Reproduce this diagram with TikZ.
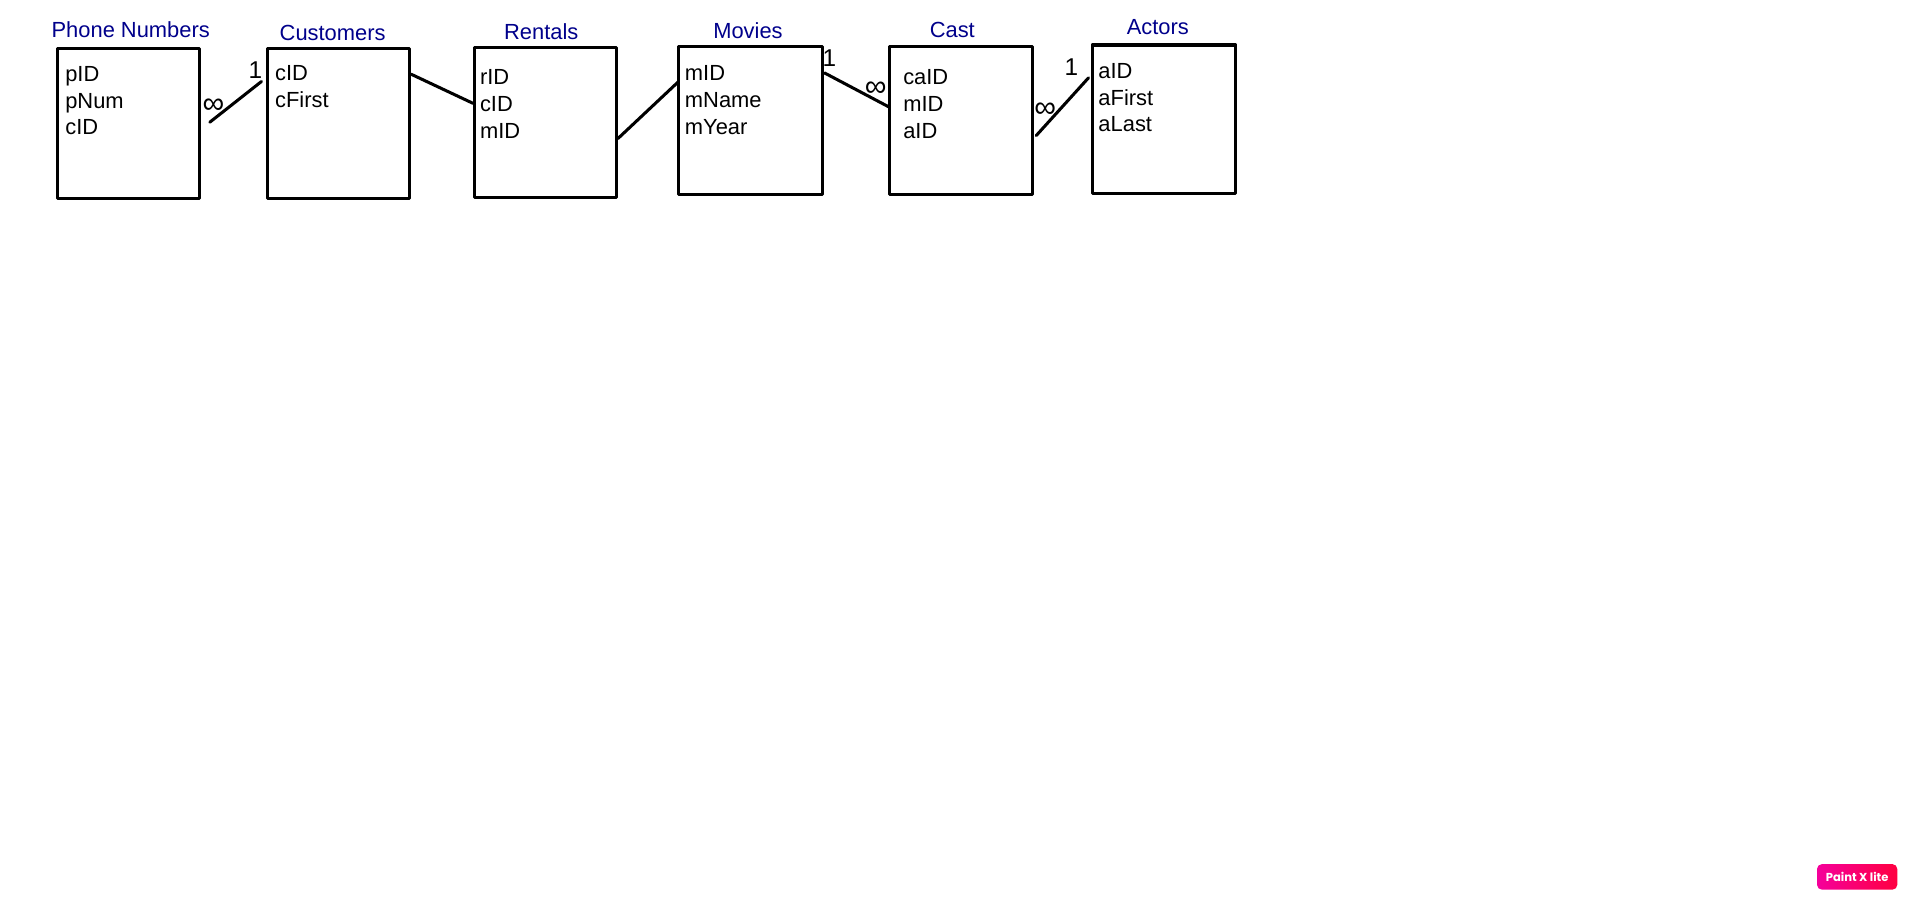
\documentclass[tikz,border=0pt]{standalone}
\usepackage{fontspec}
\setmainfont{Liberation Sans}
\newfontfamily\badgefont{Poppins}
\definecolor{titlenavy}{HTML}{00008B}
\definecolor{badgeL}{HTML}{F5009B}
\definecolor{badgeR}{HTML}{FF0040}
\tikzset{
  tablebox/.style={draw=black,line width=2.5pt,line join=round,fill=white,anchor=north west,inner sep=0pt,outer sep=0pt,minimum width=#1},
  tablebox/.default=117pt,
  tabletitle/.style={text=titlenavy,font=\fontsize{18}{20}\selectfont,inner sep=0pt,anchor=base},
  fieldtext/.style={text=black,font=\fontsize{18}{20}\selectfont,inner sep=0pt,anchor=base west},
  marktext/.style={text=black,font=\fontsize{20}{22}\selectfont,inner sep=0pt,anchor=center},
  infmark/.style={text=black,font=\fontsize{25}{25}\selectfont,inner sep=0pt,anchor=center},
  relation/.style={draw=black,line width=2.5pt,line cap=round},
}
\begin{document}
\begin{tikzpicture}[x=1pt,y=-1pt]
\useasboundingbox (0,0) rectangle (1568,737.5);
% tables
\node[tablebox=117pt,minimum height=123pt] (phone) at (47,40) {};
\node[tablebox=117pt,minimum height=123pt] (cust) at (220,40) {};
\node[tablebox=117pt,minimum height=123pt] (rent) at (390,39) {};
\node[tablebox=118pt,minimum height=122pt] (movie) at (558,38) {};
\node[tablebox=118pt,minimum height=122pt] (cast) at (731,38) {};
\node[tablebox=118pt,minimum height=122pt] (actor) at (898,37) {};
% titles
\node[tabletitle] (tphone) at (107.5,30.5) {Phone Numbers};
\node[tabletitle] (tcust) at (273.5,33.5) {Customers};
\node[tabletitle] (trent) at (445,32.5) {Rentals};
\node[tabletitle] (tmovie) at (615,31.5) {Movies};
\node[tabletitle] (tcast) at (783,30.5) {Cast};
\node[tabletitle] (tactor) at (952,28.5) {Actors};
% fields
\node[fieldtext] (f1a) at (53.5,67) {pID};
\node[fieldtext] (f1b) at (53.5,89) {pNum};
\node[fieldtext] (f1c) at (53.5,111) {cID};
\node[fieldtext] (f2a) at (226,66.5) {cID};
\node[fieldtext] (f2b) at (226,88.5) {cFirst};
\node[fieldtext] (f3a) at (394.5,69.7) {rID};
\node[fieldtext] (f3b) at (394.5,91.7) {cID};
\node[fieldtext] (f3c) at (394.5,113.7) {mID};
\node[fieldtext] (f4a) at (563,66.5) {mID};
\node[fieldtext] (f4b) at (563,88.5) {mName};
\node[fieldtext] (f4c) at (563,110.5) {mYear};
\node[fieldtext] (f5a) at (742.5,69.7) {caID};
\node[fieldtext] (f5b) at (742.5,91.7) {mID};
\node[fieldtext] (f5c) at (742.5,113.7) {aID};
\node[fieldtext] (f6a) at (903,64.5) {aID};
\node[fieldtext] (f6b) at (903,86.5) {aFirst};
\node[fieldtext] (f6c) at (903,108.5) {aLast};
% connector ends
\coordinate (c1a) at (172.5,100.5);
\coordinate (c1b) at (215,67);
\coordinate (c2a) at (338,61);
\coordinate (c2b) at (389,85);
\coordinate (c3a) at (508,114);
\coordinate (c3b) at (558,67);
\coordinate (c4a) at (678,60);
\coordinate (c4b) at (731,88);
\coordinate (c5a) at (852,111.5);
\coordinate (c5b) at (895,64);
\draw[relation] (c1a) -- (c1b);
\draw[relation] (c2a) -- (c2b);
\draw[relation] (c3a) -- (c3b);
\draw[relation] (c4a) -- (c4b);
\draw[relation] (c5a) -- (c5b);
% cardinalities
\node[marktext] (m1) at (210,58) {1};
\node[infmark] (m2) at (175.5,87) {∞};
\node[marktext] (m3) at (682,48) {1};
\node[infmark] (m4) at (720,73) {∞};
\node[infmark] (m5) at (859.5,90.5) {∞};
\node[marktext] (m6) at (881,55) {1};
% badge
\node[rounded corners=4pt,left color=badgeL,right color=badgeR,minimum width=66pt,minimum height=21pt,inner sep=0pt,text=white,font=\badgefont\bfseries\fontsize{9.5}{10}\selectfont] (badge) at (1527,721) {Paint X lite};
\end{tikzpicture}
\end{document}
